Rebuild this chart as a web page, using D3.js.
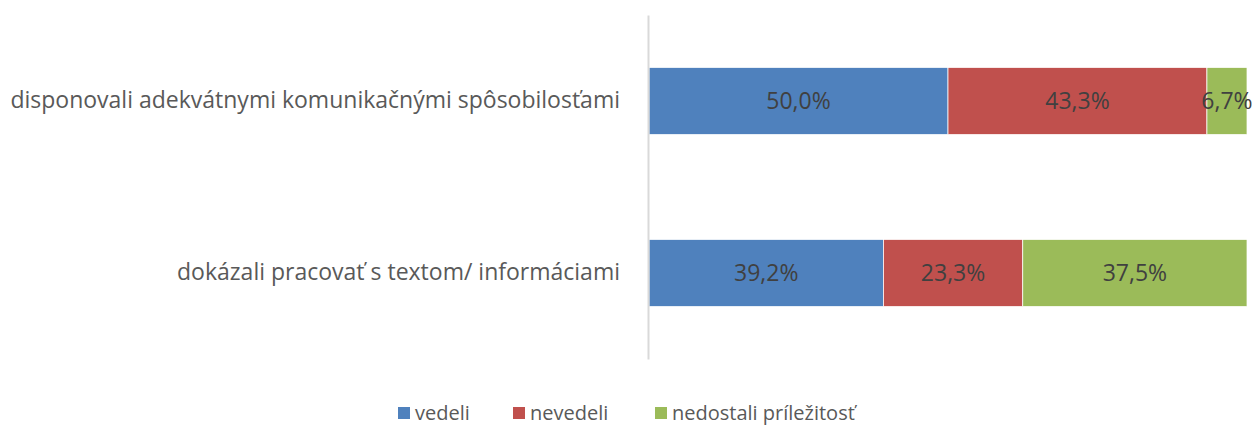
<!DOCTYPE html>
<html>
<head>
<meta charset="utf-8">
<script src="https://cdn.jsdelivr.net/npm/d3@7"></script>
<style>
  body { margin: 0; background: #fff; }
  svg { display: block; }
</style>
</head>
<body>
<svg id="chart" width="1254" height="425"></svg>
<script>
// data, top row first
const categories = [
  "disponovali adekvátnymi komunikačnými spôsobilosťami",
  "dokázali pracovať s textom/ informáciami"
];
const seriesNames = ["vedeli", "nevedeli", "nedostali príležitosť"];
const vedeli = [50.0, 39.2];
const nevedeli = [43.3, 23.3];
const nedostali = [6.7, 37.5];
const colors = ["#4f81bd", "#c0504d", "#9bbb59"];

const svg = d3.select("#chart");
const font = "'Open Sans', 'Noto Sans', sans-serif";

const rows = categories.map((c, i) => ({
  cat: c,
  "vedeli": vedeli[i],
  "nevedeli": nevedeli[i],
  "nedostali príležitosť": nedostali[i]
}));

const stack = d3.stack().keys(seriesNames);
const stacked = stack(rows);

const x = d3.scaleLinear().domain([0, 100]).range([649, 1247]);
const y = d3.scaleBand()
  .domain(categories)
  .range([15, 359])
  .paddingInner(0.61)
  .paddingOuter(0.305);

// bars
const layers = svg.selectAll(".layer")
  .data(stacked)
  .enter().append("g")
  .attr("class", "layer")
  .attr("fill", (d, i) => colors[i]);

layers.selectAll("rect")
  .data(d => d)
  .enter().append("rect")
  .attr("x", d => x(d[0]))
  .attr("y", d => y(d.data.cat))
  .attr("width", d => x(d[1]) - x(d[0]))
  .attr("height", y.bandwidth())
  .attr("stroke", "#fff")
  .attr("stroke-width", 0.75);

// value labels
layers.selectAll("text")
  .data(d => d)
  .enter().append("text")
  .attr("x", d => (x(d[0]) + x(d[1])) / 2)
  .attr("y", d => y(d.data.cat) + y.bandwidth() / 2)
  .attr("dy", "0.35em")
  .attr("text-anchor", "middle")
  .attr("fill", "#404040")
  .style("font-family", font)
  .style("font-size", "23px")
  .text(d => (d[1] - d[0]).toFixed(1).replace(".", ",") + "%");

// category axis
const yAxis = svg.append("g")
  .attr("transform", `translate(${x(0) - 1},0)`)
  .call(d3.axisLeft(y).tickSize(0).tickPadding(28));
yAxis.select(".domain").attr("stroke", "#d9d9d9").attr("stroke-width", 2);
yAxis.selectAll("text")
  .attr("fill", "#595959")
  .style("font-family", font)
  .style("font-size", "23px");

// legend
const legendX = [398, 513, 655];
const legend = svg.append("g")
  .selectAll("g")
  .data(seriesNames)
  .enter().append("g")
  .attr("transform", (d, i) => `translate(${legendX[i]},407)`);
legend.append("rect")
  .attr("width", 12).attr("height", 12)
  .attr("fill", (d, i) => colors[i]);
legend.append("text")
  .attr("x", 17).attr("y", 6)
  .attr("dy", "0.35em")
  .attr("fill", "#595959")
  .style("font-family", font)
  .style("font-size", "20px")
  .text(d => d);
</script>
</body>
</html>
